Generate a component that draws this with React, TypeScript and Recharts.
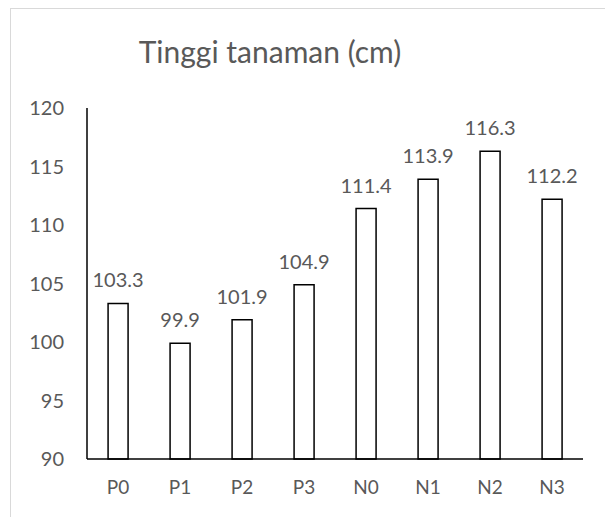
import { Bar, BarChart, LabelList, XAxis, YAxis } from "recharts";

const CATEGORIES = ["P0", "P1", "P2", "P3", "N0", "N1", "N2", "N3"];
const HEIGHTS = [103.3, 99.9, 101.9, 104.9, 111.4, 113.9, 116.3, 112.2];
const Y_TICKS = [90, 95, 100, 105, 110, 115, 120];

const FONT = "Lato, 'Open Sans', sans-serif";
const TEXT = "#595959";

export default function App() {
  const data = CATEGORIES.map((name, i) => ({ name, value: HEIGHTS[i] }));

  return (
    <div
      style={{
        position: "fixed",
        left: 0,
        top: 0,
        width: 605,
        height: 517,
        background: "#fff",
        overflow: "hidden",
        fontFamily: FONT,
      }}
    >
      {/* chart frame, right and bottom edges fall outside the picture */}
      <div
        style={{
          position: "absolute",
          left: 10,
          top: 8,
          width: 700,
          height: 600,
          border: "1.5px solid #d9d9d9",
        }}
      />
      <div
        style={{
          position: "absolute",
          left: 0,
          width: 540,
          top: 33,
          textAlign: "center",
          fontSize: 30,
          color: TEXT,
        }}
      >
        Tinggi tanaman (cm)
      </div>
      <BarChart
        width={605}
        height={517}
        data={data}
        margin={{ top: 108, right: 22, bottom: 28, left: 40 }}
        barCategoryGap="34%"
        style={{ position: "absolute", left: 0, top: 0 }}
      >
        <XAxis
          dataKey="name"
          height={30}
          axisLine={{ stroke: "#000", strokeWidth: 1.5 }}
          tickLine={false}
          tickSize={0}
          tickMargin={22}
          tick={{ fill: TEXT, fontSize: 19, fontFamily: FONT }}
        />
        <YAxis
          domain={[90, 120]}
          ticks={Y_TICKS}
          width={47}
          axisLine={{ stroke: "#000", strokeWidth: 1.5 }}
          tickLine={false}
          tickSize={0}
          tickMargin={23}
          tick={{ fill: TEXT, fontSize: 20, fontFamily: FONT }}
        />
        <Bar
          dataKey="value"
          fill="#fff"
          stroke="#000"
          strokeWidth={1.5}
          isAnimationActive={false}
        >
          <LabelList
            dataKey="value"
            position="top"
            offset={16}
            fill={TEXT}
            fontSize={20}
            fontFamily={FONT}
          />
        </Bar>
      </BarChart>
    </div>
  );
}
